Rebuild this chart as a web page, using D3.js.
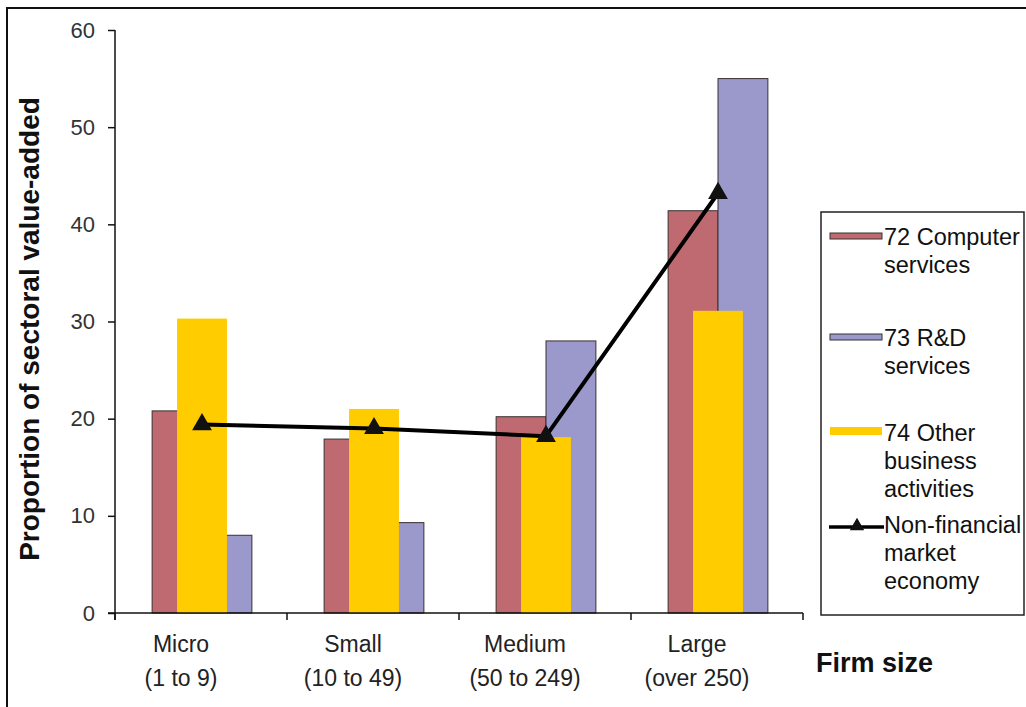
<!DOCTYPE html>
<html>
<head>
<meta charset="utf-8">
<script src="https://cdn.jsdelivr.net/npm/d3@7"></script>
<style>
  html, body { margin: 0; padding: 0; background: #fff; }
  svg { display: block; }
  text { font-family: "Liberation Sans", Arial, sans-serif; }
</style>
</head>
<body>
<svg id="chart" width="1026" height="707"></svg>
<script>
// Firm-size categories and their employee ranges
const categories = ["Micro", "Small", "Medium", "Large"];
const categoryRanges = ["(1 to 9)", "(10 to 49)", "(50 to 249)", "(over 250)"];

// Share of sectoral value-added (%) by firm size
const computerServices = [20.8, 17.9, 20.2, 41.4];   // 72 Computer services
const rdServices       = [8.0, 9.3, 28.0, 55.0];     // 73 R&D services
const otherBusiness    = [30.3, 21.0, 18.1, 31.1];   // 74 Other business activities
const nonFinancial     = [19.4, 19.0, 18.2, 43.2];   // Non-financial market economy

const yTicks = [0, 10, 20, 30, 40, 50, 60];

const legendLabels = [
  ["72 Computer", "services"],
  ["73 R&D", "services"],
  ["74 Other", "business", "activities"],
  ["Non-financial", "market", "economy"]
];

const colors = {
  computer: "#bf6a70",
  rd: "#9b98cc",
  other: "#ffcc00",
  line: "#000000",
  barStroke: "#3a3030"
};

const svg = d3.select("#chart");

// outer frame (top and left edges)
svg.append("path")
  .attr("d", "M7,707 L7,8 L1026,8")
  .attr("fill", "none")
  .attr("stroke", "#111")
  .attr("stroke-width", 2);

const plot = { left: 115, right: 803, top: 30, bottom: 613 };

const x = d3.scaleBand()
  .domain(categories)
  .range([plot.left, plot.right])
  .paddingInner(0)
  .paddingOuter(0);

const y = d3.scaleLinear()
  .domain([0, 60])
  .range([plot.bottom, plot.top]);

const barW = x.bandwidth() * 0.29;
const cx = c => x(c) + x.bandwidth() / 2 + 1;

const rows = categories.map((c, i) => ({
  cat: c,
  computer: computerServices[i],
  rd: rdServices[i],
  other: otherBusiness[i],
  nf: nonFinancial[i]
}));

const bars = svg.append("g");

// 72 Computer services: left of centre
bars.selectAll("rect.computer")
  .data(rows).join("rect")
  .attr("class", "computer")
  .attr("x", d => cx(d.cat) - barW)
  .attr("y", d => y(d.computer))
  .attr("width", barW)
  .attr("height", d => y(0) - y(d.computer))
  .attr("fill", colors.computer)
  .attr("stroke", colors.barStroke)
  .attr("stroke-width", 1);

// 73 R&D services: right of centre
bars.selectAll("rect.rd")
  .data(rows).join("rect")
  .attr("class", "rd")
  .attr("x", d => cx(d.cat))
  .attr("y", d => y(d.rd))
  .attr("width", barW)
  .attr("height", d => y(0) - y(d.rd))
  .attr("fill", colors.rd)
  .attr("stroke", colors.barStroke)
  .attr("stroke-width", 1);

// 74 Other business activities: centred, drawn on top
bars.selectAll("rect.other")
  .data(rows).join("rect")
  .attr("class", "other")
  .attr("x", d => cx(d.cat) - barW / 2)
  .attr("y", d => y(d.other))
  .attr("width", barW)
  .attr("height", d => y(0) - y(d.other))
  .attr("fill", colors.other);

// Y axis
const yAxis = svg.append("g")
  .attr("transform", `translate(${plot.left},0)`)
  .call(d3.axisLeft(y).tickValues(yTicks).tickSize(7).tickPadding(13).tickSizeOuter(0));
yAxis.select(".domain")
  .attr("d", `M0,${plot.top}V${plot.bottom + 7}`)
  .attr("stroke", "#111").attr("stroke-width", 1.5);
yAxis.selectAll(".tick line").attr("stroke", "#111").attr("stroke-width", 1.5);
yAxis.selectAll(".tick text")
  .attr("font-size", 22)
  .attr("fill", "#333")
  .attr("font-family", "Liberation Sans, Arial, sans-serif");

// X axis
const xAxis = svg.append("g")
  .attr("transform", `translate(0,${plot.bottom})`)
  .call(d3.axisBottom(x).tickSize(0).tickSizeOuter(0).tickFormat(""));
xAxis.select(".domain")
  .attr("d", `M${plot.left - 7},0H${plot.right}`)
  .attr("stroke", "#111").attr("stroke-width", 1.5);

// boundary ticks between categories
const boundaries = categories.map(c => x(c)).concat([x.range()[1]]);
xAxis.selectAll("line.boundary")
  .data(boundaries).join("line")
  .attr("class", "boundary")
  .attr("x1", d => d).attr("x2", d => d)
  .attr("y1", 0).attr("y2", 7)
  .attr("stroke", "#111").attr("stroke-width", 1.5);

// two-line category labels
xAxis.selectAll(".tick text").remove();
xAxis.selectAll(".tick").each(function(c) {
  const i = categories.indexOf(c);
  const t = d3.select(this).append("text")
    .attr("fill", "#222")
    .attr("font-size", 23)
    .attr("text-anchor", "middle")
    .attr("x", -20);
  t.append("tspan").attr("x", -20).attr("y", 39).text(c);
  t.append("tspan").attr("x", -20).attr("y", 73).text(categoryRanges[i]);
});

// Non-financial market economy line
const line = d3.line()
  .x(d => cx(d.cat))
  .y(d => y(d.nf));

svg.append("path")
  .datum(rows)
  .attr("d", line)
  .attr("fill", "none")
  .attr("stroke", colors.line)
  .attr("stroke-width", 4)
  .attr("stroke-linejoin", "round");

const tri = d3.symbol().type(d3.symbolTriangle).size(170);
svg.selectAll("path.marker")
  .data(rows).join("path")
  .attr("class", "marker")
  .attr("d", tri)
  .attr("transform", d => `translate(${cx(d.cat)},${y(d.nf)})`)
  .attr("fill", "#111");

// Axis titles
svg.append("text")
  .attr("transform", "translate(39,329) rotate(-90)")
  .attr("text-anchor", "middle")
  .attr("font-size", 28)
  .attr("font-weight", "bold")
  .attr("fill", "#111")
  .text("Proportion of sectoral value-added");

svg.append("text")
  .attr("x", 816)
  .attr("y", 672)
  .attr("font-size", 27)
  .attr("font-weight", "bold")
  .attr("fill", "#111")
  .text("Firm size");

// Legend
const legend = svg.append("g");
legend.append("rect")
  .attr("x", 821).attr("y", 212)
  .attr("width", 203).attr("height", 403)
  .attr("fill", "#fff")
  .attr("stroke", "#222")
  .attr("stroke-width", 1.5);

const itemY = [245, 346, 441, 533];
const textX = 884;
const lineGap = 28;

legendLabels.forEach((lines, i) => {
  const g = legend.append("g").attr("transform", `translate(0,${itemY[i]})`);
  if (i === 0 || i === 1) {
    g.append("rect")
      .attr("x", 830).attr("y", -12)
      .attr("width", 52).attr("height", 6)
      .attr("fill", i === 0 ? colors.computer : colors.rd)
      .attr("stroke", colors.barStroke).attr("stroke-width", 1);
  } else if (i === 2) {
    g.append("rect")
      .attr("x", 830).attr("y", -14)
      .attr("width", 52).attr("height", 8)
      .attr("fill", colors.other);
  } else {
    g.append("line")
      .attr("x1", 829).attr("x2", 884)
      .attr("y1", -6).attr("y2", -6)
      .attr("stroke", colors.line).attr("stroke-width", 3.5);
    g.append("path")
      .attr("d", d3.symbol().type(d3.symbolTriangle).size(90)())
      .attr("transform", "translate(857,-7)")
      .attr("fill", "#111");
  }
  const t = g.append("text")
    .attr("font-size", 23.5)
    .attr("fill", "#111");
  lines.forEach((s, k) => {
    t.append("tspan").attr("x", textX).attr("y", k * lineGap).text(s);
  });
});
</script>
</body>
</html>
